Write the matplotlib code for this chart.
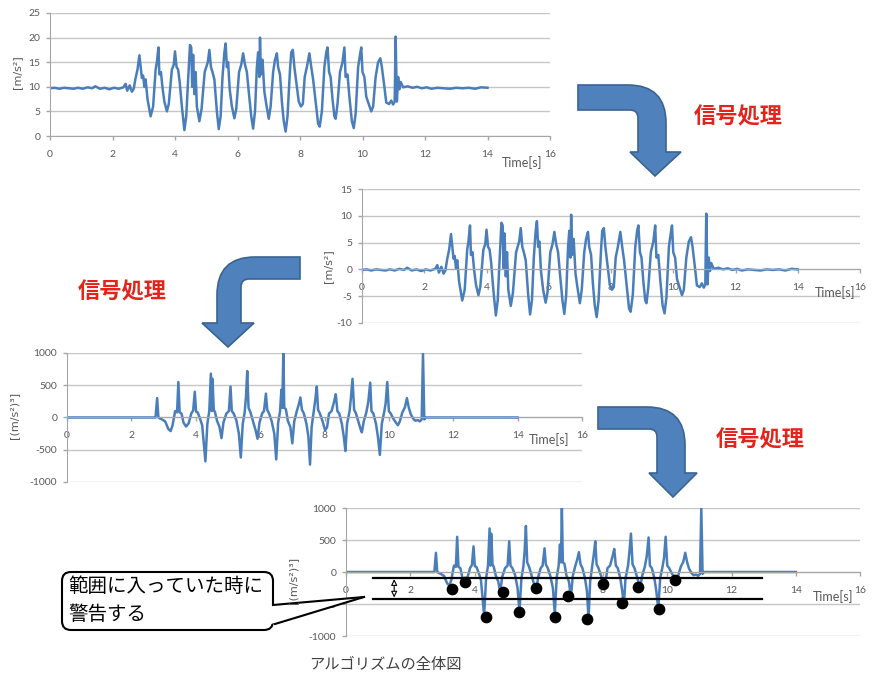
import matplotlib.pyplot as plt
from matplotlib.path import Path
from matplotlib.patches import PathPatch, FancyBboxPatch, Polygon

plt.rcParams["axes.unicode_minus"] = False

W, H = 873, 681

# --- acceleration [m/s^2] (raw) ---
t1 = [0.0, 0.15, 0.3, 0.45, 0.6, 0.75, 0.9, 1.05, 1.2, 1.35, 1.45, 1.6, 1.75, 1.9, 2.05, 2.2, 2.35,
      2.42, 2.47, 2.55, 2.62, 2.68, 2.73, 2.8, 2.86, 2.9, 2.94, 2.98, 3.02, 3.06, 3.12, 3.22,
      3.3, 3.38, 3.42, 3.47, 3.5, 3.55, 3.6, 3.66, 3.74,
      3.8, 3.9, 3.96, 4.0, 4.05, 4.1, 4.15, 4.22, 4.3,
      4.36, 4.42, 4.48, 4.52, 4.55, 4.58, 4.62, 4.66, 4.7, 4.78,
      4.85, 4.95, 5.05, 5.1, 5.15, 5.2, 5.26, 5.34, 5.4,
      5.46, 5.52, 5.58, 5.62, 5.66, 5.7, 5.75, 5.82, 5.9,
      5.96, 6.05, 6.12, 6.18, 6.24, 6.3, 6.36, 6.44, 6.5,
      6.56, 6.62, 6.66, 6.7, 6.72, 6.75, 6.8, 6.86, 6.92, 7.0,
      7.06, 7.14, 7.2, 7.26, 7.3, 7.36, 7.42, 7.48, 7.54,
      7.6, 7.68, 7.72, 7.77, 7.82, 7.88, 7.96, 8.03, 8.09,
      8.15, 8.22, 8.3, 8.36, 8.42, 8.5, 8.58, 8.63,
      8.7, 8.78, 8.84, 8.88, 8.93, 8.98, 9.04, 9.1, 9.14,
      9.2, 9.28, 9.36, 9.42, 9.46, 9.52, 9.58, 9.66, 9.72,
      9.78, 9.86, 9.92, 9.96, 10.0, 10.06, 10.12, 10.2, 10.28,
      10.34, 10.42, 10.5, 10.57, 10.62, 10.7, 10.76,
      10.85, 10.92, 10.98, 11.03, 11.06, 11.1, 11.14, 11.18, 11.22,
      11.3, 11.45, 11.6, 11.75, 11.9, 12.05, 12.2, 12.4, 12.6, 12.8, 13.0, 13.2, 13.4, 13.6, 13.8, 14.0]
acc_raw = [9.7, 9.8, 9.6, 9.8, 9.7, 9.6, 9.8, 9.6, 9.9, 9.7, 10.1, 9.6, 9.8, 9.5, 9.8, 9.6, 9.9,
           10.6, 9.2, 10.3, 9.0, 9.6, 11.5, 13.5, 16.4, 14.0, 11.8, 12.3, 10.0, 11.5, 7.5, 4.0,
           6.0, 13.5, 15.0, 18.0, 12.5, 13.0, 9.8, 7.0, 5.0,
           6.5, 13.5, 14.5, 17.2, 14.0, 13.5, 11.0, 6.0, 1.2,
           4.0, 11.5, 18.5, 18.0, 10.0, 16.5, 8.5, 13.0, 6.0, 3.0,
           5.5, 13.0, 15.0, 17.5, 14.0, 13.0, 11.5, 5.0, 1.4,
           4.0, 12.0, 17.0, 18.8, 14.0, 15.0, 9.5, 6.0, 3.6,
           5.5, 13.0, 14.5, 16.8, 14.5, 13.0, 9.0, 4.0, 1.5,
           5.0, 14.0, 17.0, 12.0, 20.0, 12.5, 15.5, 9.0, 6.5, 3.5,
           6.0, 13.0, 15.5, 16.8, 14.0, 12.5, 7.0, 3.0, 0.9,
           4.0, 13.5, 17.0, 17.5, 14.0, 11.0, 7.0, 6.0, 6.5,
           12.0, 14.0, 16.8, 14.0, 11.5, 7.0, 2.5, 1.9,
           5.0, 14.0, 17.0, 18.0, 13.0, 12.0, 7.5, 4.0, 3.5,
           6.5, 13.0, 15.0, 18.0, 12.0, 12.5, 8.0, 3.0, 1.6,
           4.5, 14.0, 16.5, 18.0, 13.0, 12.0, 8.0, 6.5, 5.0,
           6.0, 12.0, 15.0, 15.8, 14.0, 10.0, 6.8,
           6.5, 7.2, 6.4, 7.0, 20.2, 7.0, 12.0, 9.5, 11.0,
           9.9, 10.1, 9.8, 10.0, 9.7, 9.9, 9.6, 9.8, 9.7, 9.6, 9.8, 9.7, 9.8, 9.6, 9.9, 9.8]

# --- acceleration without gravity [m/s^2] ---
acc_dyn = [-0.1, 0.0, -0.2, 0.0, -0.1, -0.2, 0.0, -0.2, 0.1, -0.1, 0.3, -0.2, 0.0, -0.3, 0.0, -0.2, 0.1,
           0.8, -0.6, 0.5, -0.8, -0.2, 1.7, 3.7, 6.6, 4.2, 2.0, 2.5, 0.2, 1.7, -2.3, -5.8,
           -3.8, 3.7, 5.2, 8.2, 2.7, 3.2, 0.0, -2.8, -4.8,
           -3.3, 3.7, 4.7, 7.4, 4.2, 3.7, 1.2, -3.8, -8.6,
           -5.8, 1.7, 8.7, 8.2, 0.2, 6.7, -1.3, 3.2, -3.8, -6.8,
           -4.3, 3.2, 5.2, 7.7, 4.2, 3.2, 1.7, -4.8, -8.4,
           -5.8, 2.2, 7.2, 9.0, 4.2, 5.2, -0.3, -3.8, -6.2,
           -4.3, 3.2, 4.7, 7.0, 4.7, 3.2, -0.8, -5.8, -8.3,
           -4.8, 4.2, 7.2, 2.2, 10.2, 2.7, 5.7, -0.8, -3.3, -6.3,
           -3.8, 3.2, 5.7, 7.0, 4.2, 2.7, -2.8, -6.8, -8.9,
           -5.8, 3.7, 7.2, 7.7, 4.2, 1.2, -2.8, -3.8, -3.3,
           2.2, 4.2, 7.0, 4.2, 1.7, -2.8, -7.3, -7.9,
           -4.8, 4.2, 7.2, 8.2, 3.2, 2.2, -2.3, -5.8, -6.3,
           -3.3, 3.2, 5.2, 8.2, 2.2, 2.7, -1.8, -6.8, -8.2,
           -5.3, 4.2, 6.7, 8.2, 3.2, 2.2, -1.8, -3.3, -4.8,
           -3.8, 2.2, 5.2, 6.0, 4.2, 0.2, -3.0,
           -3.3, -2.6, -3.4, -2.8, 10.4, -2.8, 2.2, -0.3, 1.2,
           0.1, 0.3, 0.0, 0.2, -0.1, 0.1, -0.2, 0.0, -0.1, -0.2, 0.0, -0.1, 0.0, -0.2, 0.1, 0.0]

# --- processed signal [(m/s^2)^3] ---
t3 = [0.0, 2.75, 2.8, 2.84, 2.95, 3.05, 3.15, 3.22, 3.28,
      3.36, 3.42, 3.46, 3.5, 3.56, 3.62, 3.7, 3.78,
      3.86, 3.92, 3.97, 4.01, 4.06, 4.12, 4.2, 4.3, 4.36,
      4.42, 4.47, 4.5, 4.52, 4.56, 4.6, 4.66, 4.74, 4.8, 4.86,
      4.95, 5.03, 5.08, 5.12, 5.18, 5.26, 5.34, 5.4, 5.46,
      5.52, 5.56, 5.6, 5.64, 5.7, 5.78, 5.86, 5.92, 5.98,
      6.06, 6.12, 6.18, 6.22, 6.28, 6.36, 6.44, 6.5, 6.56,
      6.62, 6.66, 6.69, 6.72, 6.75, 6.8, 6.86, 6.94, 7.0, 7.06,
      7.14, 7.2, 7.25, 7.3, 7.36, 7.44, 7.5, 7.55, 7.6,
      7.66, 7.72, 7.76, 7.8, 7.86, 7.94, 8.02, 8.08,
      8.14, 8.22, 8.3, 8.35, 8.4, 8.46, 8.54, 8.6, 8.65, 8.7,
      8.78, 8.82, 8.87, 8.92, 8.98, 9.05, 9.12, 9.16, 9.22,
      9.3, 9.36, 9.42, 9.46, 9.52, 9.6, 9.66, 9.72, 9.78,
      9.86, 9.9, 9.95, 10.0, 10.06, 10.14, 10.22, 10.28, 10.34,
      10.42, 10.5, 10.56, 10.62, 10.68, 10.76, 10.82, 10.9, 10.96, 11.02, 11.06, 11.1, 11.14, 14.0]
jerk = [0, 0, 300, 0, -30, -60, -180, -210, -120,
        100, 80, 550, 80, 60, -80, -140, -90,
        60, 110, 400, 90, 80, 0, -120, -680, -100,
        100, 680, 100, 600, 120, 80, -50, -150, -320, -80,
        60, 100, 480, 100, 60, -40, -250, -620, -100,
        80, 320, 720, 150, 80, -60, -200, -330, -80,
        60, 100, 370, 120, 60, -60, -250, -650, -80,
        100, 430, 150, 1000, 150, 130, -50, -150, -400, -60,
        100, 200, 310, 120, 60, -100, -300, -730, -150,
        80, 300, 480, 120, 60, -60, -200, -150,
        60, 100, 250, 360, 100, 60, -100, -300, -520, -100,
        100, 300, 600, 120, 60, -60, -180, -230, -60,
        80, 240, 540, 100, 60, -100, -300, -580, -100,
        100, 220, 550, 100, 60, -20, -80, -120, -60,
        80, 160, 300, 150, 50, -20, -50, -40, -60, -30, 1000, -30, 0, 0]

# detected minima and warning band
dot_t = [3.3, 3.7, 4.35, 4.9, 5.4, 5.9, 6.5, 6.9, 7.5, 8.0, 8.6, 9.1, 9.75, 10.25]
dot_v = [-260, -150, -700, -320, -630, -250, -700, -380, -740, -190, -490, -240, -580, -130]
band_upper = -90
band_lower = -420
band_t = [0.85, 12.95]

BLUE = "#4a7ebb"
GRID = "#c6c6c6"
AXC = "#a6a6a6"
TXT = "#595959"
JP = ["Noto Sans CJK JP", "DejaVu Sans"]

fig = plt.figure(figsize=(W / 100, H / 100), dpi=100)


def px_axes(left, top, right, bottom):
    return fig.add_axes([left / W, 1 - bottom / H, (right - left) / W, (bottom - top) / H])


def style(ax, ylim, yticks, time_x, time_dy, ylabel, ylab_xy):
    ax.set_xlim(0, 16)
    ax.set_ylim(*ylim)
    ax.set_xticks(range(0, 17, 2))
    ax.set_yticks(yticks)
    ax.grid(axis="y", color=GRID, lw=1)
    ax.set_axisbelow(True)
    ax.patch.set_alpha(0)
    for s in ["top", "right"]:
        ax.spines[s].set_visible(False)
    ax.spines["bottom"].set_position(("data", 0))
    ax.spines["bottom"].set_color(AXC)
    ax.spines["left"].set_color(AXC)
    ax.tick_params(colors=AXC, labelcolor=TXT, labelsize=7.5, length=3, width=1)
    ax.tick_params(axis="x", pad=7)
    ax.tick_params(axis="y", pad=4)
    for lab in ax.get_xticklabels() + ax.get_yticklabels():
        lab.set_family("Lato")
    ax.annotate("Time[s]", xy=(time_x, 0), xytext=(0, time_dy), textcoords="offset pixels",
                ha="center", va="center", fontsize=9, color=TXT, family="Lato")
    fig.text(ylab_xy[0] / W, 1 - ylab_xy[1] / H, ylabel, rotation=90, ha="center", va="center",
             fontsize=8, color=TXT, family="DejaVu Sans")


ax1 = px_axes(50, 13, 550, 136)
ax1.plot(t1, acc_raw, color=BLUE, lw=1.8)
style(ax1, (0, 25), range(0, 26, 5), 15.1, -27, "[m/s²]", (17, 72))

ax2 = px_axes(362, 189, 860, 323)
ax2.plot(t1, acc_dyn, color=BLUE, lw=1.8)
style(ax2, (-10, 15), range(-10, 16, 5), 15.2, -23, "[m/s²]", (328, 266))

ax3 = px_axes(67, 353, 582, 482)
ax3.plot(t3, jerk, color=BLUE, lw=1.8)
style(ax3, (-1000, 1000), range(-1000, 1001, 500), 14.97, -22, "[(m/s²)³]", (14, 415))

ax4 = px_axes(346, 508, 860, 636)
ax4.plot(t3, jerk, color=BLUE, lw=1.8)
style(ax4, (-1000, 1000), range(-1000, 1001, 500), 15.16, -25, "[(m/s²)³]", (293, 580))
ax4.plot(band_t, [band_upper, band_upper], color="black", lw=1.6)
ax4.plot(band_t, [band_lower, band_lower], color="black", lw=1.6)
ax4.scatter(dot_t, dot_v, s=55, color="black", zorder=5)
ax4.annotate("", xy=(1.5, band_upper), xytext=(1.5, band_lower),
             arrowprops=dict(arrowstyle="<|-|>", color="black", lw=0.8, fc="white",
                             shrinkA=1, shrinkB=1, mutation_scale=9))

# overlay in pixel coordinates for arrows, callout and captions
ov = fig.add_axes([0, 0, 1, 1])
ov.set_xlim(0, W)
ov.set_ylim(H, 0)
ov.axis("off")
ov.patch.set_alpha(0)


def bent_arrow(x0, top, bot, vx0, vx1, ybot, hx0, hx1, tip, to_right=True):
    R = 38
    r = 8
    if to_right:
        verts = [(x0, top), (vx1 - R, top), (vx1, top), (vx1, top + R), (vx1, ybot), (hx1, ybot),
                 tip, (hx0, ybot), (vx0, ybot), (vx0, bot + r), (vx0, bot), (vx0 - r, bot),
                 (x0, bot), (x0, top)]
    else:
        verts = [(x0, top), (vx0 + R, top), (vx0, top), (vx0, top + R), (vx0, ybot), (hx0, ybot),
                 tip, (hx1, ybot), (vx1, ybot), (vx1, bot + r), (vx1, bot), (vx1 + r, bot),
                 (x0, bot), (x0, top)]
    codes = [Path.MOVETO, Path.LINETO, Path.CURVE3, Path.CURVE3, Path.LINETO, Path.LINETO,
             Path.LINETO, Path.LINETO, Path.LINETO, Path.LINETO, Path.CURVE3, Path.CURVE3,
             Path.LINETO, Path.CLOSEPOLY]
    ov.add_patch(PathPatch(Path(verts, codes), fc="#4f81bd", ec="#3b6391", lw=1.2))


bent_arrow(578, 85, 110, 638, 666, 152, 630, 681, (655, 176))
bent_arrow(300, 257, 279, 217, 241, 323, 202, 254, (228, 347), to_right=False)
bent_arrow(598, 407, 429, 657, 685, 473, 649, 697, (673, 497))

for x, y in [(738, 117), (122, 292), (760, 440)]:
    ov.text(x, y, "信号処理", ha="center", va="center", fontsize=16, color="#e3231c",
            family=JP, fontweight="bold")

# callout
ov.add_patch(FancyBboxPatch((62, 572), 211, 58, boxstyle="round,pad=0,rounding_size=9",
                            fc="white", ec="black", lw=1.5, zorder=3))
ov.add_patch(Polygon([(271, 605), (364, 597), (271, 624)], closed=True, fc="white", ec="none",
                     zorder=4))
ov.plot([273, 364], [605, 597], color="black", lw=1.5, zorder=5)
ov.plot([275, 364], [624, 597], color="black", lw=1.5, zorder=5)
ov.text(68, 586, "範囲に入っていた時に", ha="left", va="center", fontsize=14, color="black",
        family=JP, zorder=6)
ov.text(68, 614, "警告する", ha="left", va="center", fontsize=14, color="black",
        family=JP, zorder=6)

ov.text(385, 664, "アルゴリズムの全体図", ha="center", va="center", fontsize=11,
        color="#404040", family=JP)

fig.savefig("out.png", dpi=100, facecolor="white")
